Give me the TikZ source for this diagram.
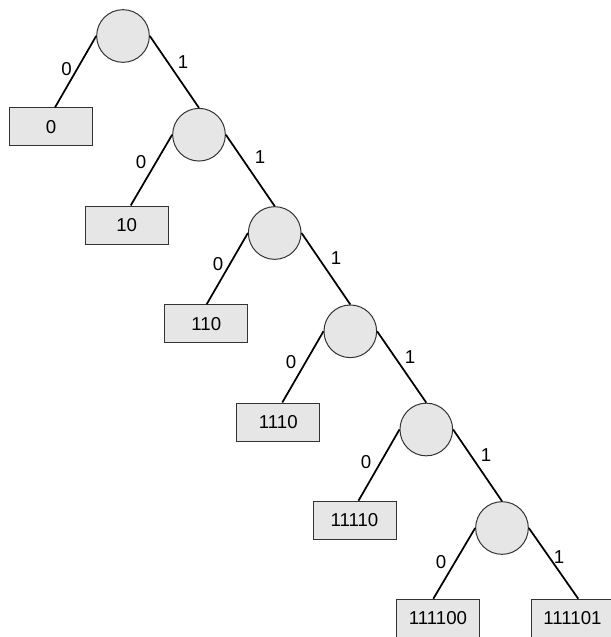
\documentclass[tikz,border=0pt]{standalone}
\usepackage{fontspec}
\setmainfont{Liberation Sans}
\definecolor{nodefill}{HTML}{E6E6E6}
\definecolor{nodeline}{HTML}{333333}
\begin{document}
\begin{tikzpicture}[x=0.75pt,y=-0.75pt,
  inner/.style={circle,draw=nodeline,line width=0.75pt,fill=nodefill,minimum size=39.5pt,inner sep=0pt},
  leaf/.style={rectangle,draw=nodeline,line width=0.75pt,fill=nodefill,minimum width=62.25pt,minimum height=28.5pt,inner sep=0pt,font=\fontsize{14}{16}\selectfont},
  edge/.style={line width=1.3pt,black},
  bit/.style={font=\fontsize{14}{16}\selectfont,inner sep=0pt}]
\useasboundingbox (0,0) rectangle (611,637);
\clip (0,0) rectangle (611,637);

% internal nodes of the code tree
\node[inner] (c1) at (123,36) {};
\node[inner] (c2) at (199,134.7) {};
\node[inner] (c3) at (274.7,233) {};
\node[inner] (c4) at (350.3,331.3) {};
\node[inner] (c5) at (426.3,429.5) {};
\node[inner] (c6) at (502,528) {};

% leaves with their code words
\node[leaf] (r1) at (51,126.9) {0};
\node[leaf] (r2) at (126.7,225) {10};
\node[leaf] (r3) at (206.3,323.7) {110};
\node[leaf] (r4) at (278.3,422) {1110};
\node[leaf] (r5) at (354.5,520.2) {11110};
\node[leaf] (r6) at (438,618.2) {111100};
\node[leaf] (r7) at (572.5,618.2) {111101};

% branches
\draw[edge] (c1.west) -- ([xshift=3pt]r1.north);
\draw[edge] (c1.east) -- (c2.north);
\draw[edge] (c2.west) -- ([xshift=3pt]r2.north);
\draw[edge] (c2.east) -- (c3.north);
\draw[edge] (c3.west) -- ([xshift=0.3pt]r3.north);
\draw[edge] (c3.east) -- (c4.north);
\draw[edge] (c4.west) -- ([xshift=3pt]r4.north);
\draw[edge] (c4.east) -- (c5.north);
\draw[edge] (c5.west) -- ([xshift=3pt]r5.north);
\draw[edge] (c5.east) -- (c6.north);
\draw[edge] (c6.west) -- ([xshift=-3.5pt]r6.north);
\draw[edge] (c6.east) -- ([xshift=4.3pt]r7.north);

% branch labels
\node[bit] (z1) at (66.5,69) {0};
\node[bit] (o1) at (183,62) {1};
\node[bit] (z2) at (141,162) {0};
\node[bit] (o2) at (260,157) {1};
\node[bit] (z3) at (218,264) {0};
\node[bit] (o3) at (336,258) {1};
\node[bit] (z4) at (291,362) {0};
\node[bit] (o4) at (410,357) {1};
\node[bit] (z5) at (366,462) {0};
\node[bit] (o5) at (486,455) {1};
\node[bit] (z6) at (441,561.7) {0};
\node[bit] (o6) at (559,556.7) {1};
\end{tikzpicture}
\end{document}
